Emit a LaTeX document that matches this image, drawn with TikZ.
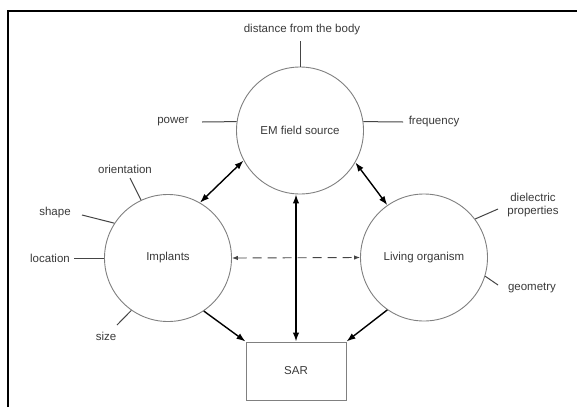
\documentclass[tikz,border=0pt]{standalone}
\usepackage{fontspec}
\setmainfont{Liberation Sans}
\usetikzlibrary{arrows.meta}
\definecolor{txt}{HTML}{3A3A3A}
\definecolor{circ}{HTML}{808080}
\definecolor{attr}{HTML}{454545}
\begin{document}
\begin{tikzpicture}[x=1pt,y=-1pt,
  every node/.style={font=\fontsize{11.5}{13}\selectfont, text=txt},
  bubble/.style={circle, draw=circ, line width=0.9pt, minimum size=127pt, inner sep=0pt},
  sarbox/.style={rectangle, draw=circ, line width=1pt, minimum width=100pt, minimum height=58pt},
  lbl/.style={inner sep=1pt},
  attrline/.style={draw=attr, line width=1pt},
  bold arrow/.style={line width=1.4pt, {Latex[length=9pt,width=6.5pt]}-{Latex[length=9pt,width=6.5pt]}},
  one arrow/.style={line width=1.4pt, -{Latex[length=9pt,width=6.5pt]}},
  dash arrow/.style={draw=attr, line width=0.9pt, dash pattern=on 9pt off 6pt, {Latex[length=6pt,width=4.5pt]}-{Latex[length=6pt,width=4.5pt]}}
]
\useasboundingbox (0,0) rectangle (577,407);
\fill[white] (0,0) rectangle (577,407);
\draw[line width=1.8pt] (8,407) -- (8,11) -- (577,11);

% main nodes
\node[bubble] (em) at (300,130.5) {EM field source};
\node[bubble] (imp) at (168,258) {Implants};
\node[bubble] (liv) at (424,257.5) {Living organism};
\node[sarbox] (sar) at (296,371) {SAR};

% attribute labels
\node[lbl] (dist) at (302,30) {distance from the body};
\node[lbl] (power) at (173,122) {power};
\node[lbl] (freq) at (434,122) {frequency};
\node[lbl] (orient) at (125,169) {orientation};
\node[lbl] (shape) at (55,213) {shape};
\node[lbl] (loc) at (50,258) {location};
\node[lbl] (size) at (106,336) {size};
\node[lbl, align=center] (diel) at (533,205) {dielectric\\properties};
\node[lbl] (geom) at (532,288) {geometry};

% free ends of attribute lines
\coordinate (cdist) at (300,41);
\coordinate (cpow) at (202,122);
\coordinate (cfreq) at (403,122);
\coordinate (corient) at (130,178);
\coordinate (cshape) at (82,215);
\coordinate (cloc) at (74,258);
\coordinate (csize) at (117,325);
\coordinate (cdiel) at (498,209);
\coordinate (cgeom) at (498,285);

\draw[attrline] (cdist) -- (em.north);
\draw[attrline] (cpow) -- (em.172);
\draw[attrline] (cfreq) -- (em.8);
\draw[attrline] (corient) -- (imp.115);
\draw[attrline] (cshape) -- (imp.147);
\draw[attrline] (cloc) -- (imp.west);
\draw[attrline] (csize) -- (imp.235);
\draw[attrline] (cdiel) -- (liv.37);
\draw[attrline] (cgeom) -- (liv.343);

% arrows
\draw[bold arrow] (em.208) -- (imp.60);
\draw[bold arrow] (em.330) -- (liv.125);
\draw[bold arrow] (sar.north |- em.south) -- (sar.north);
\draw[one arrow] (imp.304) -- (sar.north west);
\draw[one arrow] (liv.235) -- (sar.north east);
\draw[dash arrow] (imp.east) -- (liv.west);
\end{tikzpicture}
\end{document}
